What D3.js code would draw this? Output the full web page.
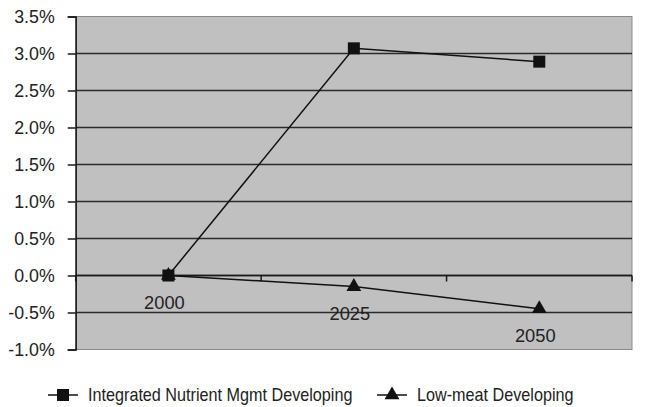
<!DOCTYPE html>
<html><head><meta charset="utf-8">
<script src="https://cdn.jsdelivr.net/npm/d3@7"></script>
<style>body{margin:0;background:#fff}svg{display:block}text{font-family:"Liberation Sans",Arial,sans-serif;fill:#222}</style>
</head><body>
<script>
const categories = ["2000","2025","2050"];
const seriesNames = ["Integrated Nutrient Mgmt Developing","Low-meat Developing"];
const inmValues = [0.0, 3.07, 2.89];
const lowMeatValues = [0.0, -0.15, -0.45];
const yTicks = [-1.0,-0.5,0.0,0.5,1.0,1.5,2.0,2.5,3.0,3.5];

const W=646,H=407;
const m={l:75.7,r:14,t:16.5,b:57.5};
const svg=d3.select("body").append("svg").attr("width",W).attr("height",H);
const x=d3.scaleBand().domain(categories).range([m.l,W-m.r]);
const y=d3.scaleLinear().domain([-1,3.5]).range([H-m.b,m.t]);

svg.append("rect").attr("x",m.l).attr("y",m.t).attr("width",W-m.r-m.l).attr("height",H-m.b-m.t)
  .attr("fill","#c0c0c0").attr("stroke","#8a8a8a").attr("stroke-width",1);

// gridlines
svg.append("g").selectAll("line").data(yTicks.filter(d=>d!==-1 && d!==3.5)).join("line")
  .attr("x1",m.l).attr("x2",W-m.r).attr("y1",d=>y(d)).attr("y2",d=>y(d))
  .attr("stroke","#2a2a2a").attr("stroke-width",1.6);

// y axis
const ya=svg.append("g").attr("transform",`translate(${m.l},0)`)
  .call(d3.axisLeft(y).tickValues(yTicks).tickFormat(d=>d.toFixed(1)+"%").tickSize(8).tickPadding(13));
ya.select(".domain").attr("stroke","#1a1a1a").attr("stroke-width",1.5);
ya.selectAll(".tick line").attr("stroke","#1a1a1a").attr("stroke-width",1.5);
ya.selectAll(".tick text").attr("font-size",17.8).attr("fill","#222").attr("font-family","Liberation Sans, Arial, sans-serif");

// x axis at zero (ticks at category boundaries)
const bounds=[...categories.map(c=>x(c)), x(categories[categories.length-1])+x.bandwidth()];
svg.append("line").attr("x1",m.l).attr("x2",W-m.r).attr("y1",y(0)).attr("y2",y(0)).attr("stroke","#1a1a1a").attr("stroke-width",1.5);
svg.append("g").selectAll("line").data(bounds).join("line")
  .attr("x1",d=>d).attr("x2",d=>d).attr("y1",y(0)).attr("y2",y(0)+6).attr("stroke","#1a1a1a").attr("stroke-width",1.5);

// category labels below lowest point
const cx=c=>x(c)+x.bandwidth()/2;
svg.append("g").selectAll("text").data(categories).join("text")
  .attr("x",(c,i)=>cx(c)-4).attr("y",(c,i)=>y(Math.min(inmValues[i],lowMeatValues[i]))+27)
  .attr("dy","0.35em").attr("text-anchor","middle").attr("font-size",18.3).text(d=>d);

const line=d3.line().x((d,i)=>cx(categories[i])).y(d=>y(d));
svg.append("path").datum(inmValues).attr("d",line).attr("fill","none").attr("stroke","#111").attr("stroke-width",1.5);
svg.append("path").datum(lowMeatValues).attr("d",line).attr("fill","none").attr("stroke","#111").attr("stroke-width",1.5);

const sq=d3.symbol().type(d3.symbolSquare).size(144);
const tri=d3.symbol().type(d3.symbolTriangle).size(95);
svg.append("g").selectAll("path").data(lowMeatValues).join("path")
  .attr("d",tri).attr("transform",(d,i)=>`translate(${cx(categories[i])},${y(d)})`).attr("fill","#111");
svg.append("g").selectAll("path").data(inmValues).join("path")
  .attr("d",sq).attr("transform",(d,i)=>`translate(${cx(categories[i])},${y(d)})`).attr("fill","#111");

// legend
const ly=395;
const lg=svg.append("g");
const items=[{x:48,sym:sq,name:seriesNames[0]},{x:377,sym:tri,name:seriesNames[1]}];
items.forEach(it=>{
  lg.append("line").attr("x1",it.x).attr("x2",it.x+30).attr("y1",ly).attr("y2",ly).attr("stroke","#111").attr("stroke-width",1.5);
  lg.append("path").attr("d",it.sym).attr("transform",`translate(${it.x+15},${ly})`).attr("fill","#111");
  lg.append("g").attr("transform",`translate(${it.x+40},${ly}) scale(0.875,1)`)
    .append("text").attr("dy","0.35em").attr("font-size",18.5).text(it.name);
});
</script>
</body></html>
